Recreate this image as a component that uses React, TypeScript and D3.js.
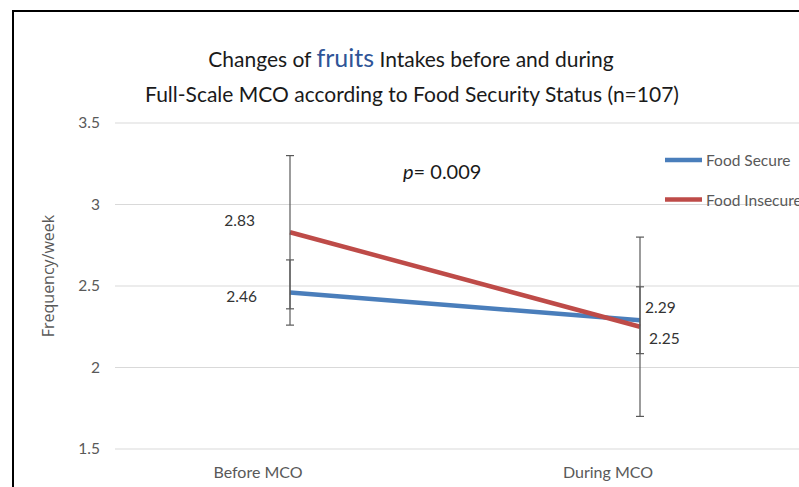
import React from "react";
import * as d3 from "d3";

const categories = ["Before MCO", "During MCO"];
const seriesNames = ["Food Secure", "Food Insecure"];
const secureValues = [2.46, 2.29];
const insecureValues = [2.83, 2.25];
const secureErrors = [0.2, 0.205];
const insecureErrors = [0.47, 0.55];
const yTicks = [1.5, 2, 2.5, 3, 3.5];
const titleLine1 = ["Changes of ", "fruits", " Intakes before and during"];
const titleLine2 = "Full-Scale MCO according to Food Security Status (n=107)";
const yTitle = "Frequency/week";
const pLabel = ["p", "= 0.009"];

const W = 799;
const H = 487;
const FONT = "Lato, 'Noto Sans', sans-serif";
const BLUE = "#4A7EBB";
const RED = "#BE4B48";
const TXT = "#333333";
const AX = "#595959";

export default function App() {
  const x = d3.scaleBand<string>().domain(categories).range([115, 815]);
  const y = d3.scaleLinear().domain([1.5, 3.5]).range([449, 123]);
  const cx = (c: string) => (x(c) as number) + x.bandwidth() / 2;

  const line = d3
    .line<number>()
    .x((_, i) => cx(categories[i]))
    .y((v) => y(v));

  const series = [
    { name: seriesNames[0], values: secureValues, errs: secureErrors, color: BLUE },
    { name: seriesNames[1], values: insecureValues, errs: insecureErrors, color: RED },
  ];

  return (
    <svg
      width={W}
      height={H}
      style={{ position: "absolute", left: 0, top: 0, background: "#fff" }}
      fontFamily={FONT}
    >
      <rect x={0} y={0} width={W} height={H} fill="#fff" />
      {/* frame */}
      <path d={`M13,${H + 5} V11 H${W + 5}`} fill="none" stroke="#000" strokeWidth={2} />

      {/* title */}
      <text x={411} y={67} textAnchor="middle" fontSize={21} fill="#1a1a1a">
        <tspan>{titleLine1[0]}</tspan>
        <tspan fill="#2F5597" fontSize={25}>{titleLine1[1]}</tspan>
        <tspan>{titleLine1[2]}</tspan>
      </text>
      <text x={412} y={102} textAnchor="middle" fontSize={21} fill="#1a1a1a">
        {titleLine2}
      </text>

      {/* gridlines */}
      {yTicks.map((t) => (
        <g key={t}>
          <line x1={115} x2={W} y1={y(t)} y2={y(t)} stroke="#D9D9D9" strokeWidth={1.2} />
          <text x={100} y={y(t) + 5} textAnchor="end" fontSize={15.5} fill={AX}>
            {t}
          </text>
        </g>
      ))}

      {/* y title */}
      <text
        transform={`translate(54,276) rotate(-90)`}
        textAnchor="middle"
        fontSize={16}
        fill={AX}
        fontFamily="'Open Sans', sans-serif"
      >
        {yTitle}
      </text>

      {/* x labels */}
      {categories.map((c) => (
        <text key={c} x={cx(c) - 32} y={478} textAnchor="middle" fontSize={16} fill={AX}>
          {c}
        </text>
      ))}

      {/* lines */}
      {series.map((s) => (
        <path key={s.name} d={line(s.values) as string} fill="none" stroke={s.color} strokeWidth={4.5} />
      ))}

      {/* error bars */}
      {series.map((s) =>
        s.values.map((v, i) => {
          const px = cx(categories[i]);
          const top = y(v + s.errs[i]);
          const bot = y(v - s.errs[i]);
          return (
            <g key={s.name + i} stroke="#595959" strokeWidth={1.2}>
              <line x1={px} x2={px} y1={top} y2={bot} />
              <line x1={px - 4} x2={px + 4} y1={top} y2={top} />
              <line x1={px - 4} x2={px + 4} y1={bot} y2={bot} />
            </g>
          );
        })
      )}

      {/* data labels */}
      <text x={cx(categories[0]) - 35} y={y(insecureValues[0]) - 6} textAnchor="end" fontSize={15.5} fill={TXT}>
        {insecureValues[0].toFixed(2)}
      </text>
      <text x={cx(categories[0]) - 33} y={y(secureValues[0]) + 9} textAnchor="end" fontSize={15.5} fill={TXT}>
        {secureValues[0].toFixed(2)}
      </text>
      <text x={cx(categories[1]) + 5} y={y(secureValues[1]) - 7} textAnchor="start" fontSize={15.5} fill={TXT}>
        {secureValues[1].toFixed(2)}
      </text>
      <text x={cx(categories[1]) + 9} y={y(insecureValues[1]) + 17} textAnchor="start" fontSize={15.5} fill={TXT}>
        {insecureValues[1].toFixed(2)}
      </text>

      {/* p value */}
      <text x={403} y={179} fontSize={20} fill="#1a1a1a">
        <tspan fontStyle="italic">{pLabel[0]}</tspan>
        <tspan>{pLabel[1]}</tspan>
      </text>

      {/* legend */}
      {series.map((s, i) => (
        <g key={s.name} transform={`translate(0,${160 + i * 39.5})`}>
          <line x1={665} x2={702} y1={0} y2={0} stroke={s.color} strokeWidth={4.5} />
          <text x={706} y={6} fontSize={15.5} fill={AX}>
            {s.name}
          </text>
        </g>
      ))}
    </svg>
  );
}
